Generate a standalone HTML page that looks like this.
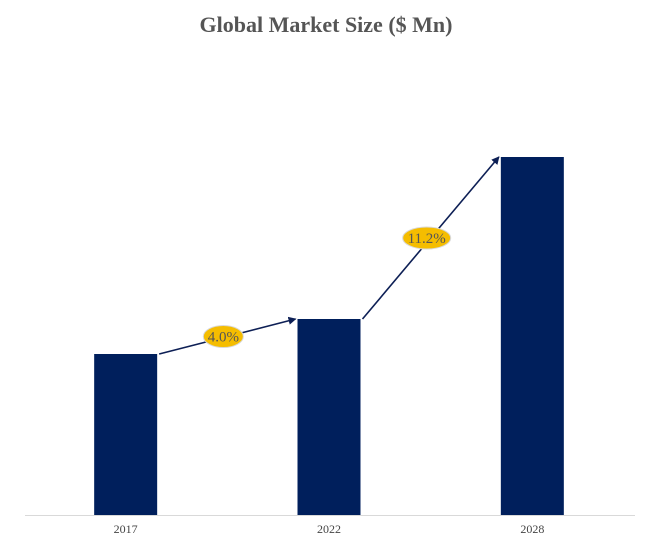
<!DOCTYPE html>
<html><head><meta charset="utf-8"><style>
body{margin:0;background:#fff;width:652px;height:558px;overflow:hidden}
svg{display:block;font-family:"Liberation Serif",serif}
</style></head><body>
<svg id="c" width="652" height="558">
<defs><marker id="ah" markerWidth="8" markerHeight="8" refX="7" refY="4" orient="auto" markerUnits="userSpaceOnUse"><path d="M0,0 L8,4 L0,8 Z" fill="#0d1f55"/></marker></defs>
<text x="326" y="32" text-anchor="middle" font-size="22" font-weight="bold" fill="#555">Global Market Size ($ Mn)</text>
<line x1="25" y1="515.5" x2="635" y2="515.5" stroke="#d9d9d9" stroke-width="1"/>
</svg>
<script>
const categories=["2017","2022","2028"];
const values=[161,196,358];
const growthLabels=["4.0%","11.2%"];
const svg=document.getElementById('c');
const NS="http://www.w3.org/2000/svg";
const baseY=515, plotW=610, plotX=25, barW=63;
const xCenter=i=>plotX+plotW*(i+0.5)/categories.length-1;
const yScale=v=>baseY-v;
function mk(t,a){const e=document.createElementNS(NS,t);for(const k in a)e.setAttribute(k,a[k]);svg.appendChild(e);return e;}
categories.forEach((c,i)=>{
  const b=mk('rect',{x:xCenter(i)-barW/2,y:yScale(values[i]),width:barW,height:baseY-yScale(values[i]),fill:'#001f5c'});
  
  
  const t=mk('text',{x:xCenter(i),y:533,'text-anchor':'middle','font-size':12,fill:'#444'});
  t.textContent=c;
  
  
});
growthLabels.forEach((g,i)=>{
  const x1=xCenter(i)+barW/2+2,y1=yScale(values[i]);
  const x2=xCenter(i+1)-barW/2-2,y2=yScale(values[i+1]);
  const l=mk('line',{x1:x1,y1:y1,x2:x2,y2:y2,stroke:'#0d1f55','stroke-width':1.6,'marker-end':'url(#ah)'});
  
  
  const mx=(x1+x2)/2-4,my=(y1+y2)/2;
  const rx=g.length>4?24:20;
  const e=mk('ellipse',{cx:mx,cy:my,rx:rx,ry:11,fill:'#f5bd00',stroke:'#d9d9d9','stroke-width':1});
  
  
  const t=mk('text',{x:mx,y:my+5,'text-anchor':'middle','font-size':15,fill:'#555'});
  t.textContent=g;
  
  
});
</script>
</body></html>
